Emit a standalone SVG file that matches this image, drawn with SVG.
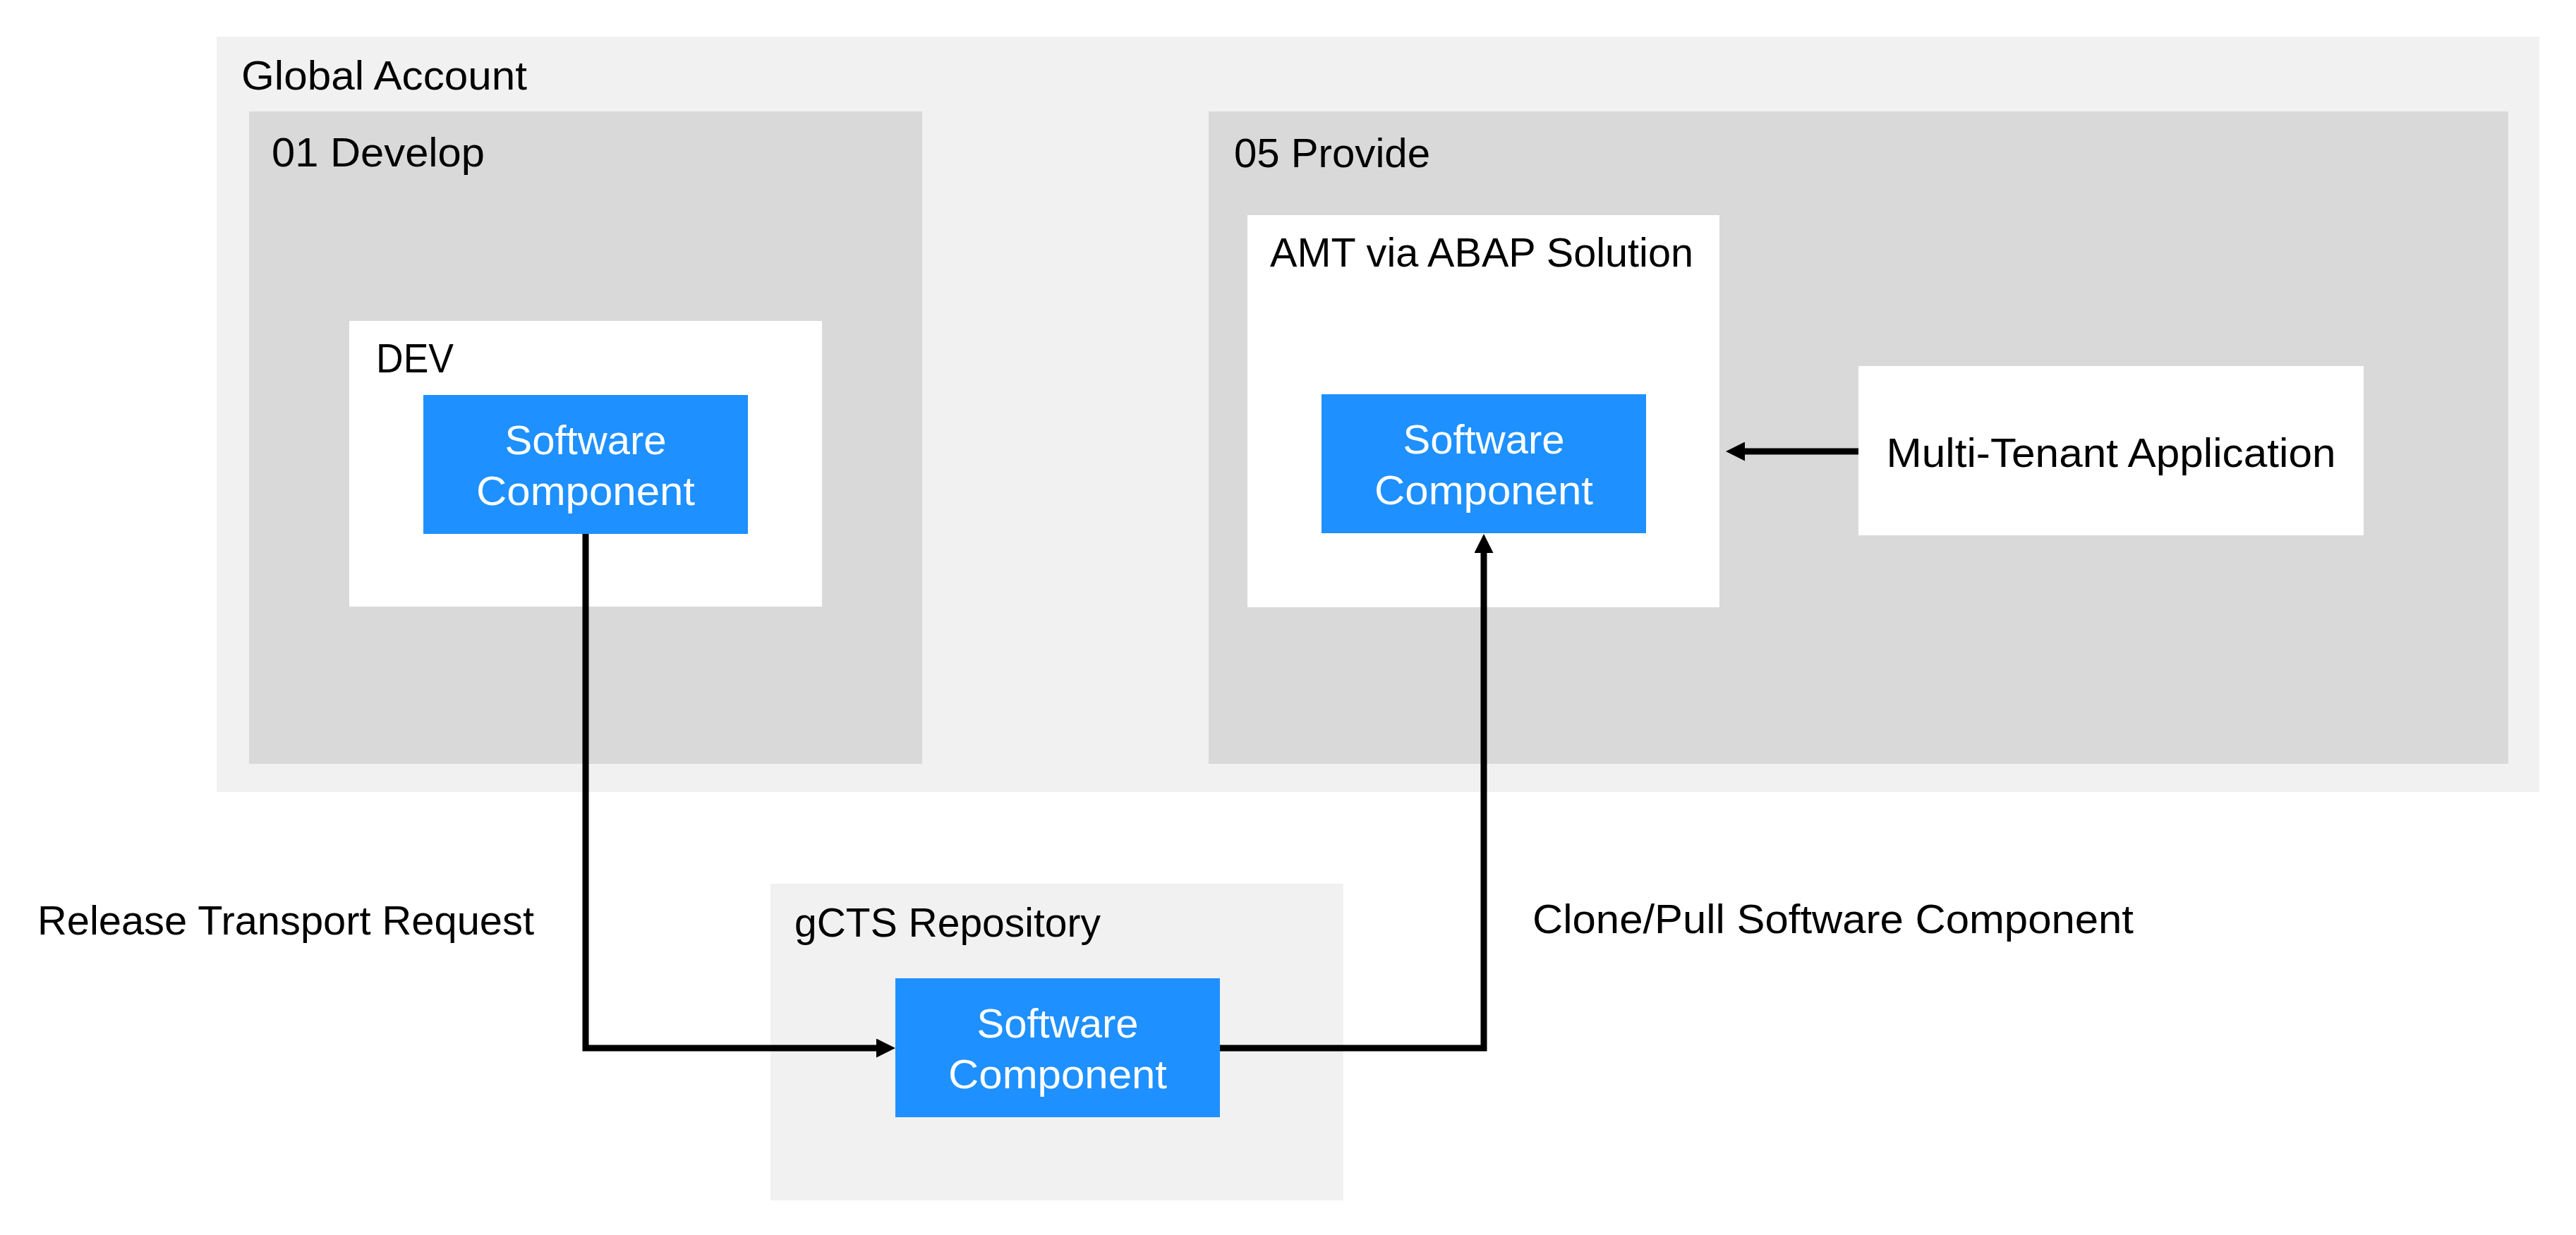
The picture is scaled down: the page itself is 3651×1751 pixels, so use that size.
<svg xmlns="http://www.w3.org/2000/svg" width="3651" height="1751" viewBox="0 0 3651 1751">
<style>
.t{font-family:"Liberation Sans",Arial,sans-serif;font-size:58px;fill:#000}
.w{font-family:"Liberation Sans",Arial,sans-serif;font-size:58px;fill:#fff;text-anchor:middle}
.lvl1{fill:#f1f1f1}
.lvl2{fill:#d9d9d9}
.lvl3{fill:#fff}
.sc{fill:#1e90ff}
.conn{fill:none;stroke:#000;stroke-width:9;stroke-linejoin:miter}
</style>
<defs>
<marker id="arr" viewBox="0 0 27 27" markerWidth="27" markerHeight="27" markerUnits="userSpaceOnUse" refX="0" refY="13.5" orient="auto">
<path d="M0,0 L27,13.5 L0,27 z" fill="#000"/>
</marker>
</defs>
<rect width="3651" height="1751" fill="#fff"/>
<g id="global-account">
<rect class="lvl1" x="307" y="52" width="3292" height="1071"/>
<text class="t" x="342" y="127" textLength="405" lengthAdjust="spacingAndGlyphs">Global Account</text>
</g>
<g id="develop">
<rect class="lvl2" x="353" y="158" width="954" height="925"/>
<text class="t" x="385" y="236" textLength="302" lengthAdjust="spacingAndGlyphs">01 Develop</text>
</g>
<g id="dev">
<rect class="lvl3" x="495" y="455" width="670" height="405"/>
<text class="t" x="533" y="528" textLength="110" lengthAdjust="spacingAndGlyphs">DEV</text>
</g>
<g id="sc-dev">
<rect class="sc" x="600" y="560" width="460" height="197"/>
<text class="w" x="830" y="644" textLength="229" lengthAdjust="spacingAndGlyphs">Software</text>
<text class="w" x="830" y="716" textLength="310" lengthAdjust="spacingAndGlyphs">Component</text>
</g>
<g id="provide">
<rect class="lvl2" x="1713" y="158" width="1842" height="925"/>
<text class="t" x="1749" y="237" textLength="278" lengthAdjust="spacingAndGlyphs">05 Provide</text>
</g>
<g id="amt">
<rect class="lvl3" x="1768" y="305" width="669" height="556"/>
<text class="t" x="1800" y="378" textLength="600" lengthAdjust="spacingAndGlyphs">AMT via ABAP Solution</text>
</g>
<g id="sc-amt">
<rect class="sc" x="1873" y="559" width="460" height="197"/>
<text class="w" x="2103" y="643" textLength="229" lengthAdjust="spacingAndGlyphs">Software</text>
<text class="w" x="2103" y="715" textLength="310" lengthAdjust="spacingAndGlyphs">Component</text>
</g>
<g id="multi-tenant">
<rect class="lvl3" x="2634" y="519" width="716" height="240"/>
<text class="w" style="fill:#000" x="2992" y="662" textLength="637" lengthAdjust="spacingAndGlyphs">Multi-Tenant Application</text>
</g>
<g id="gcts">
<rect class="lvl1" x="1092" y="1253" width="812" height="449"/>
<text class="t" x="1126" y="1328" textLength="434" lengthAdjust="spacingAndGlyphs">gCTS Repository</text>
</g>
<g id="sc-gcts">
<rect class="sc" x="1269" y="1387" width="460" height="197"/>
<text class="w" x="1499" y="1471" textLength="229" lengthAdjust="spacingAndGlyphs">Software</text>
<text class="w" x="1499" y="1543" textLength="310" lengthAdjust="spacingAndGlyphs">Component</text>
</g>
<g id="connectors">
<path class="conn" d="M830,757 V1486 H1242" marker-end="url(#arr)"/>
<path class="conn" d="M1729,1486 H2103 V784" marker-end="url(#arr)"/>
<path class="conn" d="M2634,640 H2473" marker-end="url(#arr)"/>
<text class="t" x="53" y="1325" textLength="704" lengthAdjust="spacingAndGlyphs">Release Transport Request</text>
<text class="t" x="2172" y="1323" textLength="852" lengthAdjust="spacingAndGlyphs">Clone/Pull Software Component</text>
</g>
</svg>
